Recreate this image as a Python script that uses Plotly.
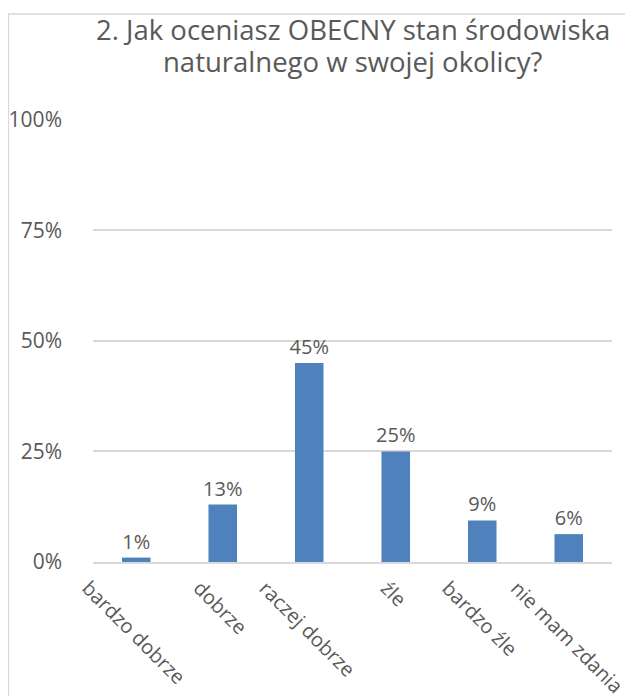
import plotly.graph_objects as go

categories = ["bardzo dobrze", "dobrze", "raczej dobrze", "źle", "bardzo źle", "nie mam zdania"]
values = [0.01, 0.13, 0.45, 0.25, 0.094, 0.063]
y_ticks = [0, 0.25, 0.5, 0.75, 1.0]
y_tick_labels = ["0%", "25%", "50%", "75%", "100%"]
title_lines = ["2. Jak oceniasz OBECNY stan środowiska", "naturalnego w swojej okolicy?"]

FONT = "Open Sans"
GREY = "#595959"

fig = go.Figure()
fig.add_trace(go.Bar(
    x=categories, y=values,
    marker=dict(color="#4F81BD", line=dict(width=0)),
    texttemplate="%{y:.0%}", textposition="outside", constraintext="none",
    textfont=dict(family=FONT, size=20, color=GREY),
    cliponaxis=False,
))

annotations = [
    dict(x=c, y=0, xref="x", yref="y", text=c, showarrow=False,
         textangle=45, xanchor="center", yanchor="top", yshift=-10, xshift=-2,
         font=dict(family=FONT, size=20, color=GREY))
    for c in categories
]
for line, ypos in zip(title_lines, [1.156, 1.0835]):
    annotations.append(dict(
        x=0.5, y=ypos, xref="paper", yref="paper", yanchor="bottom",
        text=line, showarrow=False,
        font=dict(family=FONT, size=27.5, color=GREY)))

fig.update_layout(
    width=625, height=688,
    margin=dict(l=85, r=21, t=111, b=134, autoexpand=False),
    paper_bgcolor="white", plot_bgcolor="white",
    showlegend=False,
    bargap=0.67,
    annotations=annotations,
    shapes=[dict(type="rect", xref="paper", yref="paper",
                 x0=-0.163, y0=-0.5, x1=1.2, y1=1.237,
                 line=dict(color="#D9D9D9", width=1.5), fillcolor="rgba(0,0,0,0)",
                 layer="below")],
    xaxis=dict(range=[-0.5, 5.5], autorange=False, showticklabels=False, showgrid=False,
               automargin=False,
               showline=True, linecolor="#D9D9D9", linewidth=2, ticks="", zeroline=False),
    yaxis=dict(range=[0, 1.002], autorange=False, tickvals=y_ticks, ticktext=y_tick_labels,
               automargin=False,
               showgrid=True, gridcolor="#D9D9D9", gridwidth=1.5,
               zeroline=False, showline=False, ticks="",
               ticklabelstandoff=30,
               tickfont=dict(family=FONT, size=21, color=GREY)),
)

fig.write_html("out.html")
